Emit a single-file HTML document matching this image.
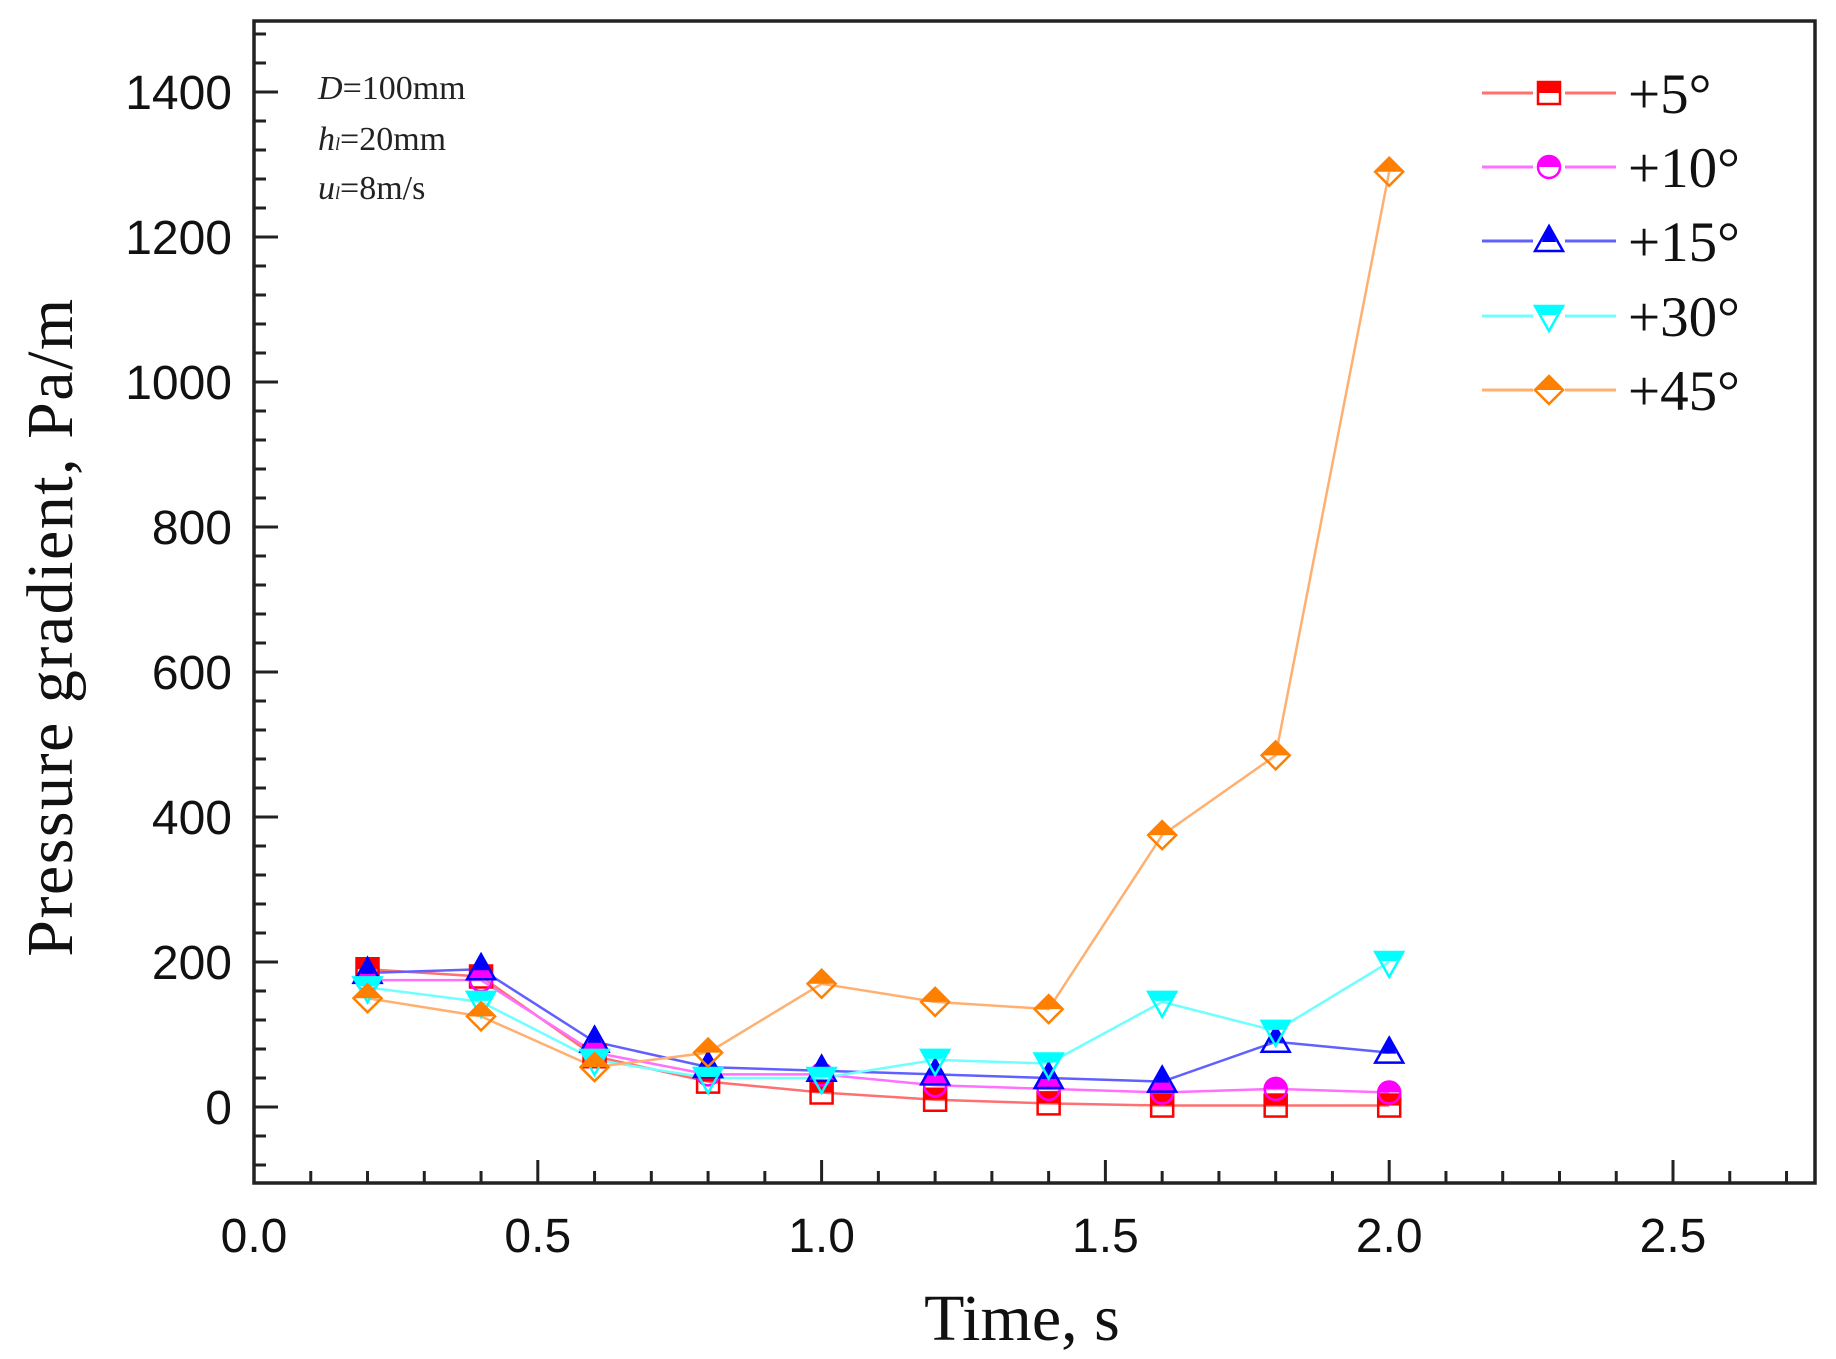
<!DOCTYPE html>
<html><head><meta charset="utf-8"><style>
html,body{margin:0;padding:0;background:#fff;}
svg{display:block;}
</style></head><body>
<svg id="s" width="1836" height="1359" viewBox="0 0 1836 1359" xmlns="http://www.w3.org/2000/svg">
<rect width="1836" height="1359" fill="#fff"/>
<g id="axes"></g>
<g id="data"></g>
<g font-family="Liberation Serif, serif" font-size="34" fill="#222">
<text x="318" y="99"><tspan font-style="italic">D</tspan>=100mm</text>
<text x="318" y="150"><tspan font-style="italic">h</tspan><tspan font-size="18" font-style="italic">l</tspan>=20mm</text>
<text x="318" y="199"><tspan font-style="italic">u</tspan><tspan font-size="18" font-style="italic">l</tspan>=8m/s</text>
</g>
<text x="1022" y="1340" text-anchor="middle" font-family="Liberation Serif, serif" font-size="66" fill="#111">Time, s</text>
<text transform="translate(72,627) rotate(-90)" text-anchor="middle" font-family="Liberation Serif, serif" font-size="66" fill="#111" letter-spacing="1.5">Pressure  gradient,  Pa/m</text>
</svg>
<script>
const L=254,R=1815,T=21,B=1183;
const X=t=>254+t*567.6, Y=v=>1107-v*0.725;
let a='';
a+=`<rect x="${L}" y="${T}" width="${R-L}" height="${B-T}" fill="none" stroke="#222" stroke-width="3.5"/>`;
for(let i=0;i<=28;i++){const t=i*0.1;const x=X(t);if(x>R-2)break;const maj=i%5==0;
 a+=`<line x1="${x}" y1="${B}" x2="${x}" y2="${B-(maj?23:12)}" stroke="#222" stroke-width="3"/>`;
 if(maj)a+=`<text x="${x}" y="1252" text-anchor="middle" font-family="Liberation Sans, sans-serif" font-size="48" fill="#111">${t.toFixed(1)}</text>`;}
for(let v=-80;v<=1500;v+=40){const y=Y(v);if(y<T+2||y>B-2)continue;const maj=v%200==0;
 a+=`<line x1="${L}" y1="${y}" x2="${L+(maj?24:12)}" y2="${y}" stroke="#222" stroke-width="3"/>`;
 if(maj)a+=`<text x="232" y="${y+17}" text-anchor="end" font-family="Liberation Sans, sans-serif" font-size="48" fill="#111">${v}</text>`;}
document.getElementById('axes').innerHTML=a;
const ts=[0.2,0.4,0.6,0.8,1.0,1.2,1.4,1.6,1.8,2.0];
const S=[
 {c:'#ff0000',lc:'#ff7070',m:'sq',d:[190,180,70,35,20,10,5,2,2,2],lab:'+5°'},
 {c:'#ff00ff',lc:'#ff70ff',m:'ci',d:[175,175,75,45,45,30,25,20,25,20],lab:'+10°'},
 {c:'#0000ff',lc:'#6060ff',m:'tu',d:[185,190,90,55,50,45,40,35,90,75],lab:'+15°'},
 {c:'#00ffff',lc:'#70ffff',m:'td',d:[165,145,65,40,40,65,60,145,105,200],lab:'+30°'},
 {c:'#ff7f00',lc:'#ffb070',m:'di',d:[150,125,55,75,170,145,135,375,485,1290],lab:'+45°'}];
function marker(m,x,y,c){const r=12;let o='';
 if(m=='sq'){o+=`<rect x="${x-r}" y="${y-r}" width="${2*r}" height="${r}" fill="${c}"/><rect x="${x-r+1}" y="${y-r+1}" width="${2*r-2}" height="${2*r-2}" fill="none" stroke="${c}" stroke-width="2.5"/>`;}
 else if(m=='ci'){o+=`<path d="M${x-r},${y} A${r},${r} 0 0 1 ${x+r},${y} Z" fill="${c}"/><circle cx="${x}" cy="${y}" r="${r-1}" fill="none" stroke="${c}" stroke-width="2.5"/>`;}
 else if(m=='tu'){o+=`<polygon points="${x},${y-r-3} ${x+r*0.6},${y+1} ${x-r*0.6},${y+1}" fill="${c}"/><polygon points="${x},${y-r-3} ${x+r+2},${y+r-2} ${x-r-2},${y+r-2}" fill="none" stroke="${c}" stroke-width="2.5"/>`;}
 else if(m=='td'){o+=`<polygon points="${x-r-2},${y-r+2} ${x+r+2},${y-r+2} ${x+r*0.6},${y-1} ${x-r*0.6},${y-1}" fill="${c}"/><polygon points="${x-r-2},${y-r+2} ${x+r+2},${y-r+2} ${x},${y+r+3}" fill="none" stroke="${c}" stroke-width="2.5"/>`;}
 else {o+=`<polygon points="${x},${y-r-2} ${x+r+2},${y} ${x-r-2},${y}" fill="${c}"/><polygon points="${x},${y-r-2} ${x+r+2},${y} ${x},${y+r+2} ${x-r-2},${y}" fill="none" stroke="${c}" stroke-width="2.5"/>`;}
 return o;}
let d='';
S.forEach(s=>{d+=`<polyline points="${s.d.map((v,i)=>X(ts[i])+','+Y(v)).join(' ')}" fill="none" stroke="${s.lc}" stroke-width="2.5"/>`;});
S.forEach(s=>{s.d.forEach((v,i)=>{d+=marker(s.m,X(ts[i]),Y(v),s.c);});});
const ly=[93,167,241,316,390];
S.forEach((s,i)=>{const y=ly[i];
 d+=`<line x1="1482" y1="${y}" x2="1616" y2="${y}" stroke="${s.lc}" stroke-width="3"/>`;
 d+=`<rect x="1533" y="${y-14}" width="32" height="28" fill="#fff"/>`;
 d+=marker(s.m,1549,y,s.c);
 d+=`<text x="1628" y="${y+20}" font-family="Liberation Serif, serif" font-size="57" fill="#111">${s.lab}</text>`;});
document.getElementById('data').innerHTML=d;
</script>
</body></html>
